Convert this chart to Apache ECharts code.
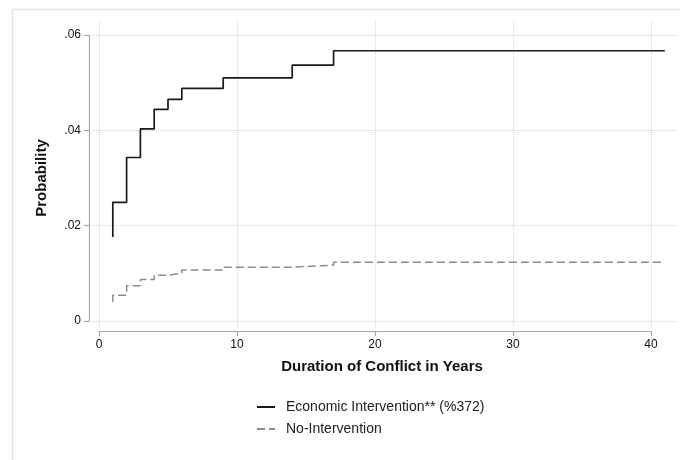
<!DOCTYPE html>
<html><head><meta charset="utf-8">
<script src="https://cdn.jsdelivr.net/npm/echarts@6/dist/echarts.min.js"></script>
<style>html,body{margin:0;padding:0;background:#fff}#c{width:680px;height:460px}</style>
</head><body><div id="c"></div>
<script>
// Data (Kaplan-Meier style step curves)
const econYears = [1, 1, 2, 2, 3, 4, 5, 6, 9, 14, 17, 41];
const econProb  = [0.0176, 0.0249, 0.0305, 0.0343, 0.0403, 0.0444, 0.0465, 0.0488, 0.0510, 0.0537, 0.0567, 0.0567];
const noYears   = [1, 1, 2, 3, 4, 5, 6, 9, 14, 17, 41];
const noProb    = [0.0040, 0.0054, 0.0074, 0.0087, 0.0096, 0.0100, 0.0107, 0.0113, 0.0117, 0.0123, 0.0123];
const xTicks = [0, 10, 20, 30, 40];
const yTicks = [0, 0.02, 0.04, 0.06];
const seriesNames = ['Economic Intervention** (%372)', 'No-Intervention'];
const xTitle = 'Duration of Conflict in Years';
const yTitle = 'Probability';

const FONT = '"Liberation Sans", Arial, Helvetica, sans-serif';
const zip = (a, b) => a.map((v, i) => [v, b[i]]);
const fmtY = v => (Math.abs(v) < 1e-9 ? '0' : v.toFixed(2).replace(/^0/, ''));

// geometry: x=0 at px 99, x=40 at px 651; y=0 at px 321, y=.06 at px 35
const X0 = 99, X40 = 651, Y0 = 321, Y6 = 35;
const pxX = (X40 - X0) / 40, pxY = (Y0 - Y6) / 0.06;
const A = { left: 92, right: 678, top: 20, bottom: 327 };

const chart = echarts.init(document.getElementById('c'), null, { renderer: 'canvas' });
chart.setOption({
  animation: false,
  backgroundColor: '#fff',
  graphic: [{
    type: 'rect', left: 10, top: 7, silent: true, z: -10,
    shape: { width: 720, height: 520 },
    style: { fill: 'none', stroke: '#e3e3e3', lineWidth: 1.5 }
  }],
  grid: [
    { left: A.left, top: A.top, width: A.right - A.left, height: A.bottom - A.top },
    { left: X0, top: Y6, width: X40 - X0, height: Y0 - Y6 }
  ],
  xAxis: [
    {
      gridIndex: 0, type: 'value',
      min: (A.left - X0) / pxX, max: (A.right - X0) / pxX,
      axisLine: { show: false }, axisLabel: { show: false },
      axisTick: { show: false, customValues: xTicks },
      splitLine: { show: true, lineStyle: { color: '#d4d4d4', type: 'dotted', width: 1 } }
    },
    {
      gridIndex: 1, type: 'value', min: 0, max: 40, interval: 10, offset: 10,
      axisLine: { show: true, onZero: false, lineStyle: { color: '#a8a8a8', width: 1.2 } },
      axisTick: { show: true, length: 5, lineStyle: { color: '#a8a8a8', width: 1.2 } },
      axisLabel: { show: true, margin: 8, color: '#111', fontSize: 12, fontFamily: FONT },
      splitLine: { show: false },
      name: xTitle, nameLocation: 'middle', nameGap: 28,
      nameTextStyle: { fontSize: 15, fontWeight: 'bold', color: '#111', fontFamily: FONT, padding: [0, 0, 0, 14] }
    }
  ],
  yAxis: [
    {
      gridIndex: 0, type: 'value',
      min: -(A.bottom - Y0) / pxY, max: 0.06 + (Y6 - A.top) / pxY,
      axisLine: { show: false }, axisLabel: { show: false },
      axisTick: { show: false, customValues: yTicks },
      splitLine: { show: true, lineStyle: { color: '#d4d4d4', type: 'dotted', width: 1 } }
    },
    {
      gridIndex: 1, type: 'value', min: 0, max: 0.06, interval: 0.02, offset: 10,
      axisLine: { show: true, onZero: false, lineStyle: { color: '#a8a8a8', width: 1.2 } },
      axisTick: { show: true, length: 5, lineStyle: { color: '#a8a8a8', width: 1.2 } },
      axisLabel: { show: true, margin: 8, color: '#111', fontSize: 12, fontFamily: FONT, formatter: fmtY },
      splitLine: { show: false },
      name: yTitle, nameLocation: 'middle', nameGap: 40, nameRotate: 90,
      nameTextStyle: { fontSize: 15, fontWeight: 'bold', color: '#111', fontFamily: FONT }
    }
  ],
  legend: {
    orient: 'vertical', left: 251, top: 394, itemWidth: 18, itemHeight: 14, itemGap: 6,
    itemStyle: { opacity: 0 },
    textStyle: { fontSize: 14, color: '#222', fontFamily: FONT, lineHeight: 16, padding: [0, 0, 0, 6] },
    data: seriesNames
  },
  series: [
    {
      name: seriesNames[0], type: 'line', xAxisIndex: 0, yAxisIndex: 0,
      step: 'end', symbol: 'none', data: zip(econYears, econProb),
      lineStyle: { color: '#1a1a1a', width: 1.7 }, itemStyle: { color: '#1a1a1a' }
    },
    {
      name: seriesNames[1], type: 'line', xAxisIndex: 0, yAxisIndex: 0,
      step: 'end', symbol: 'none', data: zip(noYears, noProb),
      lineStyle: { color: '#8c8c8c', width: 1.5, type: [8, 4] }, itemStyle: { color: '#8c8c8c' }
    }
  ]
});
</script>
</body></html>
